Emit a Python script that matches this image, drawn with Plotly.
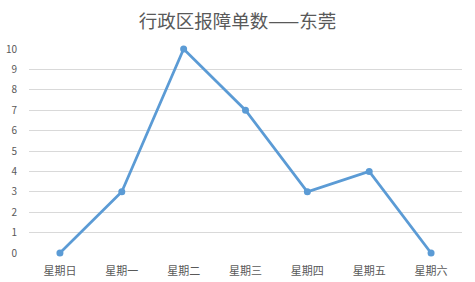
import plotly.graph_objects as go

categories = ["星期日", "星期一", "星期二", "星期三", "星期四", "星期五", "星期六"]
values = [0, 3, 10, 7, 3, 4, 0]
y_ticks = list(range(0, 11))

fig = go.Figure()
fig.add_trace(go.Scatter(
    x=categories, y=values, mode="lines+markers",
    line=dict(color="#5B9BD5", width=2.75),
    marker=dict(color="#5B9BD5", size=7),
    hoverinfo="skip", showlegend=False, cliponaxis=False,
))
font_family = "Noto Sans CJK SC, Microsoft YaHei, sans-serif"
fig.update_layout(
    width=475, height=282,
    margin=dict(l=29, r=13, t=49, b=29),
    paper_bgcolor="white", plot_bgcolor="white",
    title=dict(text="行政区报障单数——东莞", x=0.5, xanchor="center", y=0.925, yanchor="middle",
               font=dict(family=font_family, size=18.5, color="#595959")),
    font=dict(family=font_family, size=10, color="#595959"),
    xaxis=dict(range=[-0.5, 6.5], showgrid=False, showline=False, zeroline=False,
               ticks="", ticklabelstandoff=10, tickfont=dict(size=11, color="#595959")),
    yaxis=dict(range=[0, 10], tickvals=y_ticks, showgrid=True, gridcolor="#D9D9D9", gridwidth=1,
               zeroline=False, showline=False, ticks="", ticklabelstandoff=11,
               tickfont=dict(size=10, color="#595959")),
)
fig.update_xaxes(automargin=False)
fig.update_yaxes(automargin=False)
fig.write_html("out.html")
